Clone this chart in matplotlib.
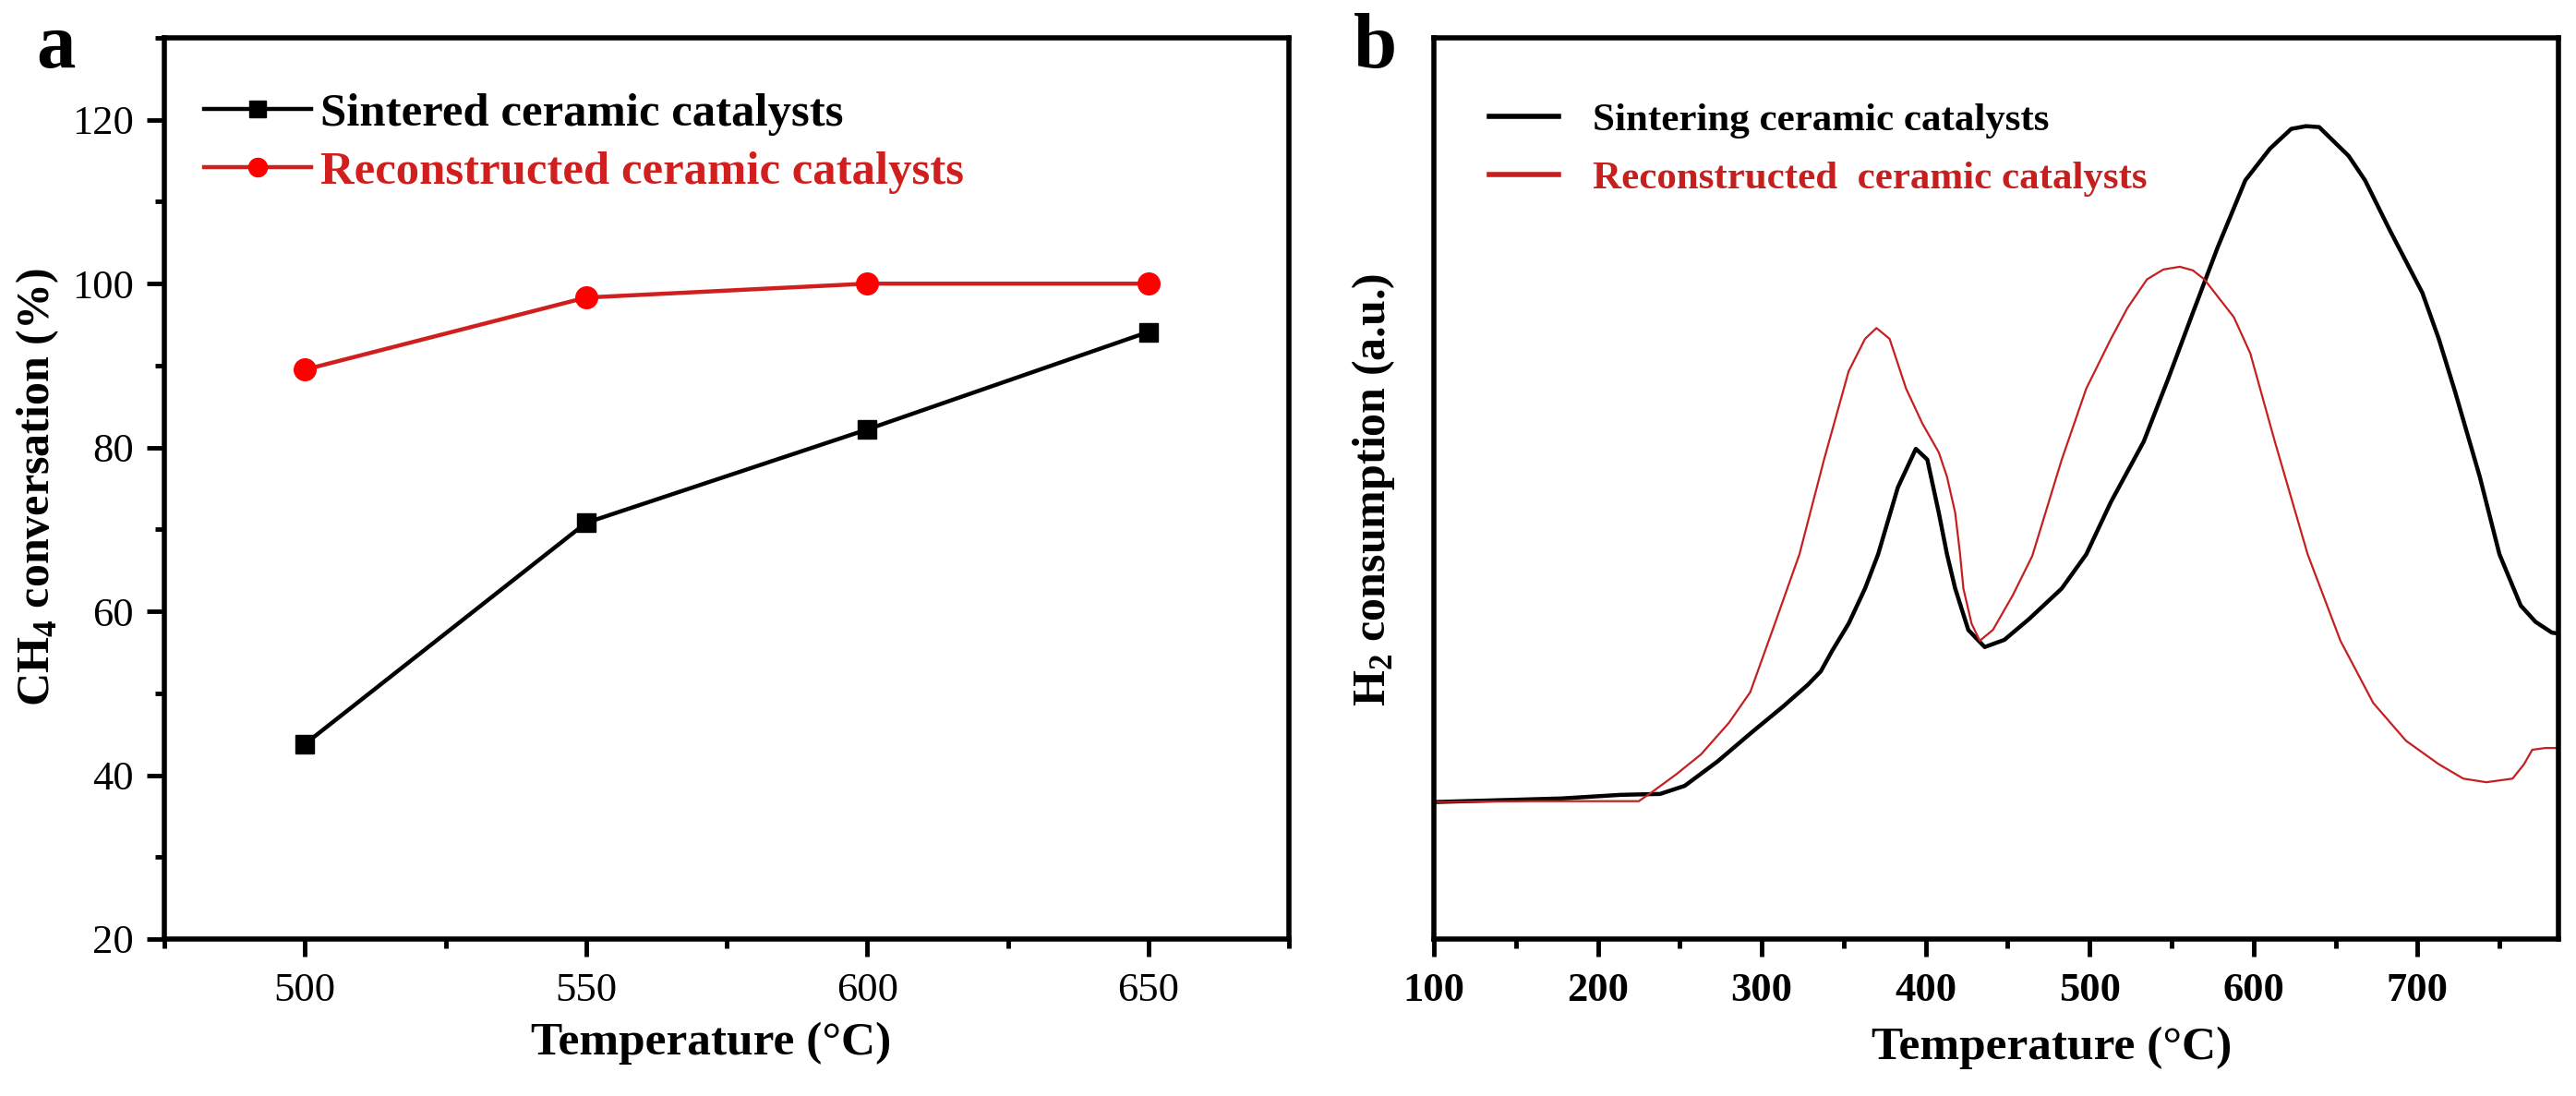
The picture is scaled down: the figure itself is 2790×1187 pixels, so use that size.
import matplotlib
matplotlib.use("Agg")
import matplotlib.pyplot as plt
from matplotlib.ticker import MultipleLocator

plt.rcParams["font.family"] = ["Liberation Serif", "DejaVu Serif"]
plt.rcParams["mathtext.fontset"] = "custom"
plt.rcParams["mathtext.rm"] = "Liberation Serif"
plt.rcParams["mathtext.bf"] = "Liberation Serif:bold"

# panel a: CH4 conversion vs temperature
temps_a = [500, 550, 600, 650]
sintered_conv = [43.8, 70.8, 82.2, 94.1]
reconstructed_conv = [89.5, 98.3, 100.0, 100.0]

# panel b: H2-TPR profiles (arbitrary units)
temp_sinter = [100, 139, 178, 214, 238, 253, 273, 293, 313, 328, 336, 343, 353, 363,
               371, 383, 394, 401, 408, 413, 418, 426, 436, 448, 463, 483, 498, 513,
               533, 548, 563, 578, 595, 610, 623, 632, 640, 658, 668, 683, 703, 713,
               723, 738, 750, 763, 772, 782, 786]
h2_sinter = [15.2, 15.4, 15.6, 16.0, 16.1, 17.0, 19.7, 22.8, 25.8, 28.2, 29.7, 32.0, 35.0, 38.9,
             42.7, 50.1, 54.4, 53.2, 47.3, 42.7, 38.9, 34.3, 32.4, 33.2, 35.5, 38.9, 42.7, 48.5,
             55.2, 62.2, 69.5, 76.7, 84.2, 87.7, 89.9, 90.2, 90.1, 86.9, 84.2, 78.7, 71.7, 66.6,
             60.7, 51.3, 42.7, 37.0, 35.2, 34.0, 33.9]
temp_recon = [100, 160, 225, 233, 248, 263, 280, 293, 308, 323, 338, 353, 363, 370, 378,
              388, 398, 408, 413, 418, 421, 423, 428, 433, 441, 453, 465, 483, 498, 513,
              523, 535, 545, 555, 563, 570, 588, 598, 613, 633, 653, 673, 693, 713, 728,
              742, 758, 765, 770, 778, 786]
h2_recon = [15.2, 15.3, 15.3, 16.3, 18.3, 20.5, 24.0, 27.4, 35.0, 42.7, 53.2, 63.0, 66.6, 67.8, 66.6,
            61.1, 57.2, 54.0, 51.3, 47.3, 42.7, 38.9, 35.0, 33.1, 34.3, 38.1, 42.5, 53.2, 61.1, 66.6,
            70.0, 73.2, 74.3, 74.6, 74.2, 73.2, 69.0, 65.0, 55.2, 42.7, 33.1, 26.2, 22.0, 19.4, 17.8,
            17.4, 17.8, 19.4, 21.0, 21.2, 21.2]

W, H = 2790, 1187
fig = plt.figure(figsize=(W / 100, H / 100), dpi=100)
ax1 = fig.add_axes([178 / W, (H - 1017) / H, 1218 / W, 976 / H])
ax2 = fig.add_axes([1553 / W, (H - 1017) / H, 1218 / W, 976 / H])

for ax in (ax1, ax2):
    for sp in ax.spines.values():
        sp.set_linewidth(4)
    ax.tick_params(which="major", direction="out", length=14, width=3.5, labelsize=32)
    ax.tick_params(which="minor", direction="out", length=7, width=3.5)

# ---- panel a ----
ax1.plot(temps_a, sintered_conv, color="black", lw=3.2, marker="s", ms=15,
         label="Sintered ceramic catalysts")
ax1.plot(temps_a, reconstructed_conv, color="#d01f1f", lw=3.2, marker="o", ms=17,
         mfc="red", mec="red", label="Reconstructed ceramic catalysts")
ax1.set_xlim(475, 675)
ax1.set_ylim(20, 130)
ax1.xaxis.set_major_locator(MultipleLocator(50))
ax1.xaxis.set_minor_locator(MultipleLocator(25))
ax1.yaxis.set_major_locator(MultipleLocator(20))
ax1.yaxis.set_minor_locator(MultipleLocator(10))
ax1.set_yticks([20, 40, 60, 80, 100, 120])
ax1.tick_params(axis="x", pad=12)
ax1.tick_params(axis="y", pad=10)
ax1.set_xlabel("Temperature (°C)", fontsize=37, fontweight="bold", va="center")
ax1.xaxis.set_label_coords(0.486, -0.116)
ax1.set_ylabel(r"CH$_{\mathbf{4}}$ conversation (%)", fontsize=36, fontweight="bold",
               va="center", ha="center")
ax1.yaxis.set_label_coords(-0.113, 0.501)
leg1 = ax1.legend(loc="upper left", bbox_to_anchor=(0.035, 0.939), frameon=False,
                  prop={"weight": "bold", "size": 36.5}, handlelength=2.3,
                  handletextpad=0.2, labelspacing=0.32, borderaxespad=0, borderpad=0,
                  labelcolor="linecolor", markerscale=0.85)

# ---- panel b ----
ax2.plot(temp_sinter, h2_sinter, color="black", lw=3.2, label="Sintering ceramic catalysts")
ax2.plot(temp_recon, h2_recon, color="#c42020", lw=1.6, label="Reconstructed  ceramic catalysts")
ax2.set_xlim(100, 786)
ax2.set_ylim(0, 100)
ax2.xaxis.set_major_locator(MultipleLocator(100))
ax2.xaxis.set_minor_locator(MultipleLocator(50))
ax2.set_yticks([])
ax2.tick_params(axis="x", pad=12)
for lbl in ax2.get_xticklabels():
    lbl.set_fontweight("bold")
ax2.set_xlabel("Temperature (°C)", fontsize=37, fontweight="bold", va="center")
ax2.xaxis.set_label_coords(0.549, -0.121)
ax2.set_ylabel(r"H$_{\mathbf{2}}$ consumption (a.u.)", fontsize=36, fontweight="bold",
               va="center", ha="center")
ax2.yaxis.set_label_coords(-0.054, 0.499)
leg2 = ax2.legend(loc="upper left", bbox_to_anchor=(0.049, 0.928), frameon=False,
                  prop={"weight": "bold", "size": 31}, handlelength=1.75,
                  handletextpad=0.85, labelspacing=0.54, borderaxespad=0, borderpad=0,
                  labelcolor="linecolor")
for line in leg2.get_lines():
    line.set_linewidth(4)

fig.text(60 / W, 1 - 73 / H, "a", fontsize=61, fontweight="bold", ha="center", va="baseline")
fig.text(1489 / W, 1 - 73 / H, "b", fontsize=61, fontweight="bold", ha="center", va="baseline")

fig.savefig("out.png", dpi=100)
